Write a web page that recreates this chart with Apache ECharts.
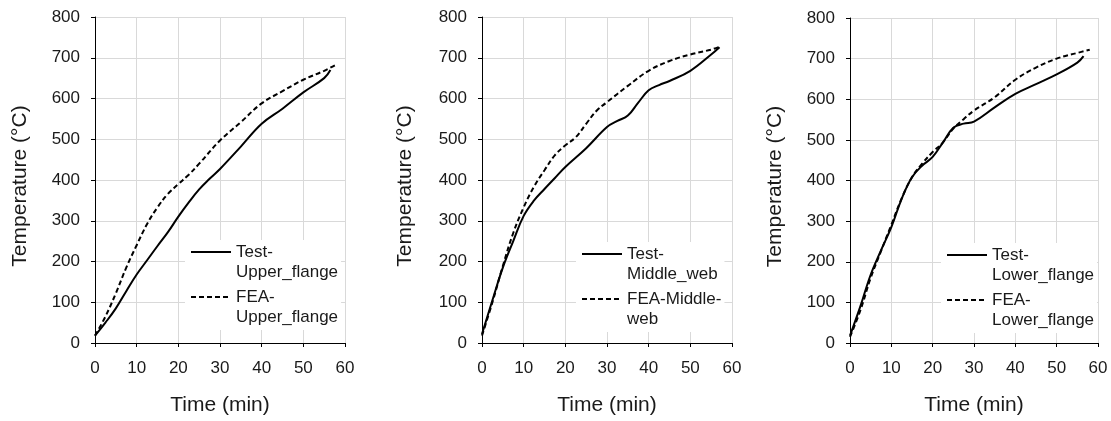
<!DOCTYPE html>
<html>
<head>
<meta charset="utf-8">
<script src="https://cdn.jsdelivr.net/npm/echarts@6/dist/echarts.min.js"></script>
<style>
  html, body { margin: 0; padding: 0; background: #fff; }
  #chart { width: 1111px; height: 421px; }
</style>
</head>
<body>
<div id="chart"></div>
<script>
// 数据：时间 (min) 和 温度 (°C)
const timeTestUpper = [0, 2.5, 5, 7.5, 10, 12.5, 15, 17.5, 20, 22.5, 25, 27.5, 30, 35, 40, 45, 50, 55, 56.5]
const tempTestUpper = [18, 50, 85, 127, 168, 203, 238, 272, 310, 345, 377, 403, 427, 482, 538, 575, 615, 650, 670]
const timeFeaUpper = [0, 2.5, 5, 7.5, 10, 12.5, 15, 17.5, 20, 22.5, 25, 30, 35, 40, 45, 50, 55, 58]
const tempFeaUpper = [18, 65, 122, 185, 240, 292, 333, 366, 390, 413, 440, 497, 542, 588, 618, 646, 668, 684]

const timeTestMiddle = [0, 2.5, 5, 7.5, 10, 12.5, 15, 17.5, 20, 25, 30, 32.5, 35, 37.5, 40, 42.5, 45, 50, 55, 57]
const tempTestMiddle = [22, 105, 185, 250, 312, 350, 378, 405, 432, 478, 530, 545, 558, 590, 620, 633, 643, 668, 708, 726]
const timeFeaMiddle = [0, 2.5, 5, 7.5, 10, 12.5, 15, 17.5, 20, 22.5, 25, 27.5, 30, 35, 40, 45, 50, 55, 57]
const tempFeaMiddle = [18, 100, 189, 270, 333, 384, 424, 461, 485, 505, 538, 570, 591, 631, 668, 692, 708, 720, 727]

const timeTestLower = [0, 2.5, 5, 7.5, 10, 12.5, 15, 17.5, 20, 22.5, 25, 27.5, 30, 35, 40, 45, 50, 55, 56.5]
const tempTestLower = [18, 90, 168, 228, 285, 355, 408, 437, 458, 494, 530, 540, 545, 580, 613, 637, 661, 690, 706]
const timeFeaLower = [0, 2.5, 5, 7.5, 10, 12.5, 15, 17.5, 20, 22.5, 25, 27.5, 30, 35, 40, 45, 50, 55, 58]
const tempFeaLower = [15, 80, 160, 226, 291, 356, 408, 442, 470, 494, 528, 551, 572, 605, 648, 678, 700, 714, 722]

const testNames = ['Test-\nUpper_flange', 'Test-\nMiddle_web', 'Test-\nLower_flange']
const feaNames = ['FEA-\nUpper_flange', 'FEA-Middle-\nweb', 'FEA-\nLower_flange']

const xTicks = { min: 0, max: 60, interval: 10 }
const yTicks = { min: 0, max: 800, interval: 100 }

const FONT = "'Liberation Sans', Arial, sans-serif"
const TXT = '#1a1a1a'

// 把两个数组拼成 [x, y]
const zip = (t, v) => t.map((x, i) => [x, v[i]])

// 每个小图的位置
const panels = [
  { left: 95, top: 17, width: 250, height: 327, legLeft: 185, legTop: 240, icon: 252 },
  { left: 482, top: 17, width: 250, height: 327, legLeft: 576, legTop: 242, icon: 254 },
  { left: 850, top: 18, width: 248, height: 328, legLeft: 941, legTop: 243, icon: 255 }
]

const seriesData = [
  [zip(timeTestUpper, tempTestUpper), zip(timeFeaUpper, tempFeaUpper)],
  [zip(timeTestMiddle, tempTestMiddle), zip(timeFeaMiddle, tempFeaMiddle)],
  [zip(timeTestLower, tempTestLower), zip(timeFeaLower, tempFeaLower)]
]

const axisCommon = {
  axisLine: { show: true, lineStyle: { color: '#000', width: 1 } },
  axisTick: { show: true, inside: false, length: 4, lineStyle: { color: '#000' } },
  splitLine: { show: true, lineStyle: { color: '#d9d9d9', width: 1 } },
  nameTextStyle: { fontFamily: FONT, fontSize: 21, color: TXT }
}

// 图例行高
const LH = 20
const grid = [], xAxis = [], yAxis = [], series = [], legend = []

panels.forEach((p, i) => {
  grid.push({ left: p.left, top: p.top, width: p.width, height: p.height, containLabel: false })
  xAxis.push({
    ...axisCommon,
    type: 'value',
    gridIndex: i,
    ...xTicks,
    axisLabel: { fontFamily: FONT, fontSize: 17, color: TXT, margin: 17 },
    name: 'Time (min)',
    nameLocation: 'middle',
    nameGap: 52
  })
  yAxis.push({
    ...axisCommon,
    type: 'value',
    gridIndex: i,
    ...yTicks,
    axisLabel: { fontFamily: FONT, fontSize: 17, color: TXT, margin: 15 },
    name: 'Temperature (°C)',
    nameLocation: 'middle',
    nameGap: i === 1 ? 66 : 64,
    nameTextStyle: { fontFamily: FONT, fontSize: 21, color: TXT, padding: [0, 12, 0, 0] }
  })
  series.push({
    name: testNames[i],
    type: 'line',
    xAxisIndex: i,
    yAxisIndex: i,
    data: seriesData[i][0],
    smooth: 0.4,
    symbol: 'none',
    lineStyle: { color: '#000', width: 2, type: 'solid' },
    itemStyle: { color: '#000' }
  })
  series.push({
    name: feaNames[i],
    type: 'line',
    xAxisIndex: i,
    yAxisIndex: i,
    data: seriesData[i][1],
    smooth: 0.4,
    symbol: 'none',
    lineStyle: { color: '#000', width: 2, type: [5, 3] },
    itemStyle: { color: '#000' }
  })
  // 图例：前面加一个空行，让线条和第一行文字对齐
  legend.push({
    data: [testNames[i], feaNames[i]],
    orient: 'vertical',
    left: p.legLeft,
    top: p.legTop,
    itemWidth: 40,
    itemHeight: 0,
    itemGap: 45 - 3 * LH,
    padding: [(p.icon - p.legTop) - 1.5 * LH, 3, 3, 5],
    backgroundColor: '#fff',
    selectedMode: false,
    itemStyle: { color: 'rgba(0,0,0,0)', borderWidth: 0 },
    formatter: name => '\n' + name,
    textStyle: { fontFamily: FONT, fontSize: 17, color: TXT, lineHeight: LH }
  })
})

const myChart = echarts.init(document.querySelector('#chart'))
myChart.setOption({
  backgroundColor: '#fff',
  animation: false,
  grid,
  xAxis,
  yAxis,
  legend,
  series
})
</script>
</body>
</html>
